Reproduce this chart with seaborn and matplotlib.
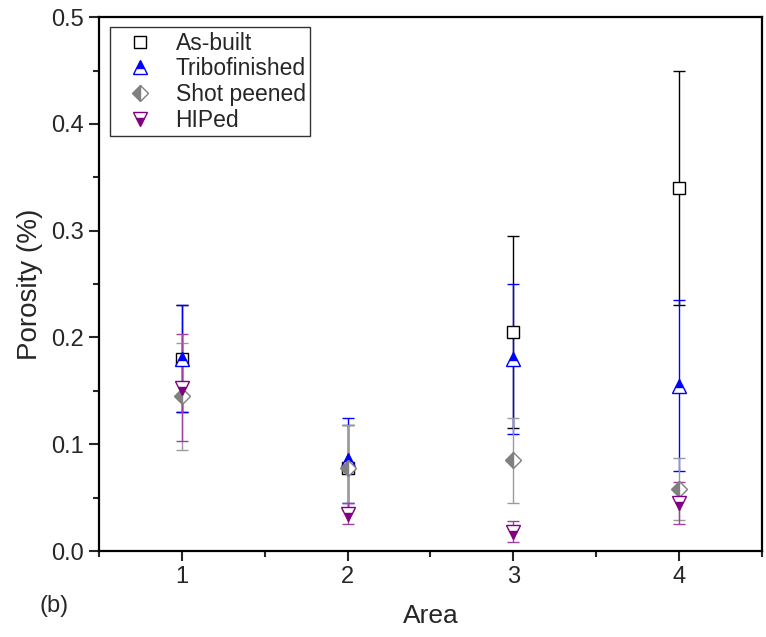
import matplotlib
matplotlib.use("Agg")
import matplotlib.pyplot as plt
from matplotlib.lines import Line2D
from matplotlib.ticker import MultipleLocator
import numpy as np
import pandas as pd
import seaborn as sns

# values
areas = [1, 2, 3, 4]
series = ["As-built", "Tribofinished", "Shot peened", "HIPed"]
asbuilt = [0.180, 0.078, 0.205, 0.340]
asbuilt_err = [0.050, 0.040, 0.090, 0.110]
tribo = [0.180, 0.085, 0.180, 0.155]
tribo_err = [0.050, 0.040, 0.070, 0.080]
shot = [0.145, 0.078, 0.085, 0.058]
shot_err = [0.050, 0.040, 0.040, 0.029]
hiped = [0.153, 0.035, 0.018, 0.045]
hiped_err = [0.050, 0.010, 0.010, 0.020]

df = pd.DataFrame({
    "Area": areas * 4,
    "Sample": np.repeat(series, 4),
    "Porosity": asbuilt + tribo + shot + hiped,
    "err": asbuilt_err + tribo_err + shot_err + hiped_err,
})

sns.set_style("ticks")
plt.rcParams["font.family"] = ["Liberation Sans", "DejaVu Sans"]

styles = {
    "As-built": dict(marker="s", color="black", mfc="white", mec="black", fillstyle="full", ecolor="black", ms=9),
    "Tribofinished": dict(marker="^", color="blue", mfc="blue", mec="blue", fillstyle="top", ecolor="blue", ms=10),
    "Shot peened": dict(marker="D", color="gray", mfc="gray", mec="gray", fillstyle="left", ecolor="#9a9a9a", ms=8),
    "HIPed": dict(marker="v", color="purple", mfc="purple", mec="purple", fillstyle="bottom", ecolor="#a040a0", ms=10),
}

fig = plt.figure(figsize=(7.66, 6.37), dpi=100)
ax = fig.add_axes([0.129, 0.135, 0.866, 0.838])

for name in series:
    d = df[df["Sample"] == name]
    st = styles[name]
    ax.errorbar(d["Area"], d["Porosity"], yerr=d["err"], linestyle="none",
                marker=st["marker"], color=st["color"], mfc=st["mfc"], mec=st["mec"],
                fillstyle=st["fillstyle"], markerfacecoloralt="white", ms=st["ms"], mew=1.0,
                ecolor=st["ecolor"], elinewidth=1.0, capsize=4, capthick=1.0)

ax.set_xlim(0.5, 4.5)
ax.set_ylim(0, 0.5)
ax.set_xticks(areas)
ax.xaxis.set_minor_locator(MultipleLocator(0.5))
ax.yaxis.set_major_locator(MultipleLocator(0.1))
ax.yaxis.set_minor_locator(MultipleLocator(0.05))
ax.yaxis.set_major_formatter(matplotlib.ticker.FormatStrFormatter("%.1f"))
ax.tick_params(which="major", direction="out", length=7, width=1.5, labelsize=17,
               top=False, right=False)
ax.tick_params(which="minor", direction="out", length=4, width=1.5, top=False, right=False)
for sp in ax.spines.values():
    sp.set_linewidth(1.6)
    sp.set_color("black")

ax.set_xlabel("Area", fontsize=19, labelpad=12)
ax.set_ylabel("Porosity (%)", fontsize=20, labelpad=6)
fig.text(0.052, 0.04, "(b)", fontsize=17)

handles = []
for name in series:
    st = styles[name]
    handles.append(Line2D([], [], linestyle="none", marker=st["marker"], color=st["color"],
                          mfc=st["mfc"], mec=st["mec"], fillstyle=st["fillstyle"],
                          markerfacecoloralt="white", ms=st["ms"], mew=1.0))
leg = ax.legend(handles, series, loc="upper left", bbox_to_anchor=(0.0, 1.003),
                fontsize=16.5, frameon=True, fancybox=False, edgecolor="black",
                handletextpad=0.45, borderpad=0.2, labelspacing=0.12, handlelength=2.2)
leg.get_frame().set_linewidth(1.0)

fig.savefig("out.png", dpi=100)
